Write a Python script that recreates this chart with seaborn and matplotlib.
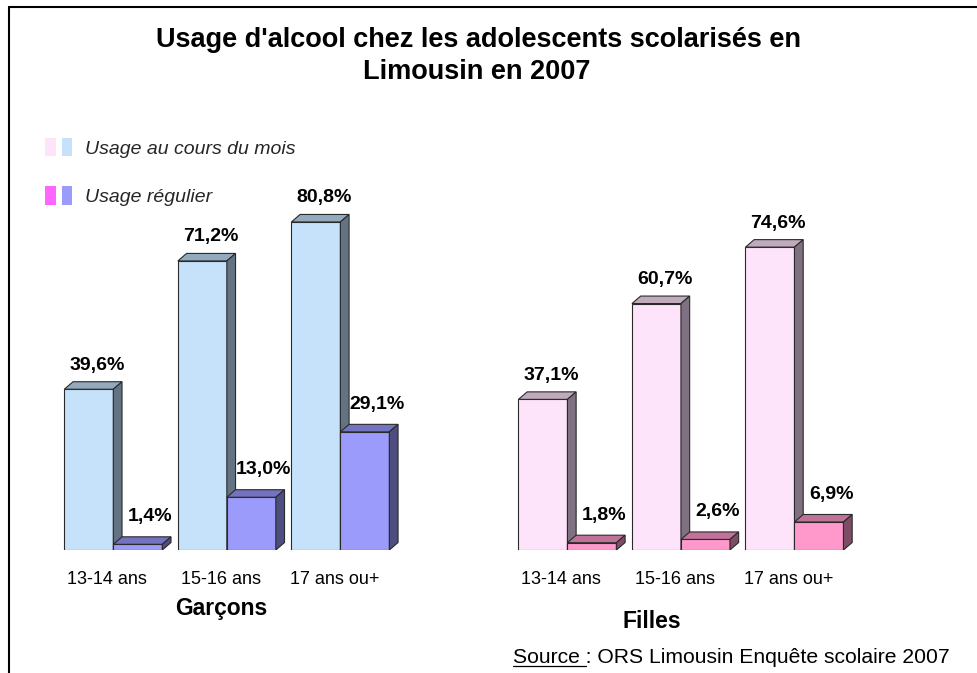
import matplotlib
matplotlib.use("Agg")
import matplotlib.pyplot as plt
import seaborn as sns
import pandas as pd
from matplotlib.patches import Polygon, Patch
from matplotlib.legend_handler import HandlerTuple
from matplotlib.transforms import ScaledTranslation
from matplotlib.lines import Line2D
from matplotlib.colors import to_hex

# ---------------- data ----------------
categories = ["13-14 ans", "15-16 ans", "17 ans ou+"]
garcons_mois = [39.6, 71.2, 80.8]
garcons_regulier = [1.4, 13.0, 29.1]
filles_mois = [37.1, 60.7, 74.6]
filles_regulier = [1.8, 2.6, 6.9]
pos_garcons = [0, 1, 2]
pos_filles = [4, 5, 6]
series_labels = ["Usage au cours du mois", "Usage régulier"]
group_labels = ["Garçons", "Filles"]
title_lines = ["Usage d'alcool chez les adolescents scolarisés en", "Limousin en 2007"]
source_prefix = "Source "
source_rest = ": ORS Limousin Enquête scolaire 2007"

# ---------------- style ----------------
sns.set_theme(style="white")
plt.rcParams["font.family"] = ["Liberation Sans", "DejaVu Sans"]

blue_light, blue_dark = "#C6E2FA", "#9B9BFC"
pink_light, pink_dark = "#FEE4FA", "#FF99CC"
faces = {  # front colour -> (top colour, side colour, zorder)
    to_hex(blue_light): ("#93A9BD", "#637383", 2),
    to_hex(blue_dark): ("#7373C0", "#4D4D80", 3),
    to_hex(pink_light): ("#C0ABBD", "#7F7181", 2),
    to_hex(pink_dark): ("#C07299", "#7F4C66", 3),
}
edge = "#2a2a2a"

W, H = 977, 673
fig = plt.figure(figsize=(W / 100, H / 100), dpi=100)
ax = fig.add_axes([45.2 / W, (H - 550) / H, 817.4 / W, 406 / H])

df_g = pd.DataFrame({"pos": pos_garcons * 2,
                     "val": garcons_mois + garcons_regulier,
                     "usage": [series_labels[0]] * 3 + [series_labels[1]] * 3})
df_f = pd.DataFrame({"pos": pos_filles * 2,
                     "val": filles_mois + filles_regulier,
                     "usage": [series_labels[0]] * 3 + [series_labels[1]] * 3})

for df, pal in ((df_g, [blue_light, blue_dark]), (df_f, [pink_light, pink_dark])):
    sns.barplot(data=df, x="pos", y="val", hue="usage", hue_order=series_labels,
                palette=pal, native_scale=True, width=0.863, saturation=1,
                edgecolor=edge, linewidth=0.8, errorbar=None, legend=False, ax=ax)

ax.set_xlim(-0.6, 6.6)
ax.set_ylim(0, 100)
ax.set_xlabel("")
ax.set_ylabel("")
ax.set_yticks([])
for s in ax.spines.values():
    s.set_visible(False)

# depth in data units
fig.canvas.draw()
px_per_x = ax.transData.transform((1, 0))[0] - ax.transData.transform((0, 0))[0]
px_per_y = ax.transData.transform((0, 1))[1] - ax.transData.transform((0, 0))[1]
dx = 8.7 / px_per_x
dy = 7.5 / px_per_y

bars = [p for p in ax.patches]
for p in bars:
    x0, w, h = p.get_x(), p.get_width(), p.get_height()
    x1 = x0 + w
    top_c, side_c, z = faces[to_hex(p.get_facecolor())]
    p.set_zorder(z)
    top = Polygon([(x0, h), (x1, h), (x1 + dx, h + dy), (x0 + dx, h + dy)],
                  closed=True, facecolor=top_c, edgecolor=edge, linewidth=0.8, zorder=z)
    side = Polygon([(x1, 0), (x1, h), (x1 + dx, h + dy), (x1 + dx, dy)],
                   closed=True, facecolor=side_c, edgecolor=edge, linewidth=0.8, zorder=z)
    ax.add_patch(top)
    ax.add_patch(side)
    light = z == 2
    ax.annotate(f"{h:.1f}".replace(".", ",") + "%",
                xy=(x0 + w / 2 + dx / 2, h + dy), xycoords="data",
                xytext=(4 if light else 8, 8 if light else 11.5), textcoords="offset pixels",
                ha="center", va="bottom", fontsize=14, fontweight="bold",
                color="black", zorder=5)

# ticks
ax.set_xticks(pos_garcons + pos_filles)
ax.set_xticklabels(categories * 2, fontsize=13, color="black")
ax.tick_params(axis="x", length=0, pad=15)
for lbl in ax.get_xticklabels():
    lbl.set_transform(lbl.get_transform() + ScaledTranslation(-6 / 100, 0, fig.dpi_scale_trans))

# group labels
ax.annotate(group_labels[0], xy=(pos_garcons[1], 0), xycoords="data",
            xytext=(-6, -58), textcoords="offset pixels", ha="center", va="center",
            fontsize=16.5, fontweight="bold", color="black")
ax.annotate(group_labels[1], xy=(pos_filles[1], 0), xycoords="data",
            xytext=(-29, -71), textcoords="offset pixels", ha="center", va="center",
            fontsize=16.5, fontweight="bold", color="black")

# legend
handles = [(Patch(facecolor=pink_light, edgecolor="none"), Patch(facecolor=blue_light, edgecolor="none")),
           (Patch(facecolor="#FF66FF", edgecolor="none"), Patch(facecolor=blue_dark, edgecolor="none"))]
fig.legend(handles=handles, labels=series_labels,
           handler_map={tuple: HandlerTuple(ndivide=None, pad=0.31)},
           loc="upper left", bbox_to_anchor=(45 / W, 1 - 138 / H), bbox_transform=fig.transFigure,
           frameon=False, prop={"size": 14, "style": "italic"},
           handlelength=1.39, handleheight=1.08, handletextpad=0.67,
           labelspacing=1.47, borderpad=0, borderaxespad=0)

# title
fig.text(479 / W, 1 - 40 / H, title_lines[0], ha="center", va="center",
         fontsize=19.5, fontweight="bold", color="black")
fig.text(477 / W, 1 - 72 / H, title_lines[1], ha="center", va="center",
         fontsize=19.5, fontweight="bold", color="black")

# source with underlined prefix
sx, sy = 513 / W, 1 - 663 / H
t0 = fig.text(sx, sy, source_prefix, ha="left", va="baseline", fontsize=15.2, alpha=0)
fig.text(sx, sy, source_prefix + source_rest, ha="left", va="baseline", fontsize=15.2, color="black")
fig.canvas.draw()
bb = t0.get_window_extent()
fig.add_artist(Line2D([bb.x0 / W, bb.x1 / W], [(H - 665.5) / H] * 2,
                      transform=fig.transFigure, color="black", linewidth=0.9))

# frame
fig.add_artist(Line2D([9 / W, 1.0], [1 - 7 / H] * 2, transform=fig.transFigure,
                      color="black", linewidth=1.5))
fig.add_artist(Line2D([9 / W] * 2, [1 - 7 / H, 0], transform=fig.transFigure,
                      color="black", linewidth=1.5))

fig.savefig("out.png", dpi=100, facecolor="white")
